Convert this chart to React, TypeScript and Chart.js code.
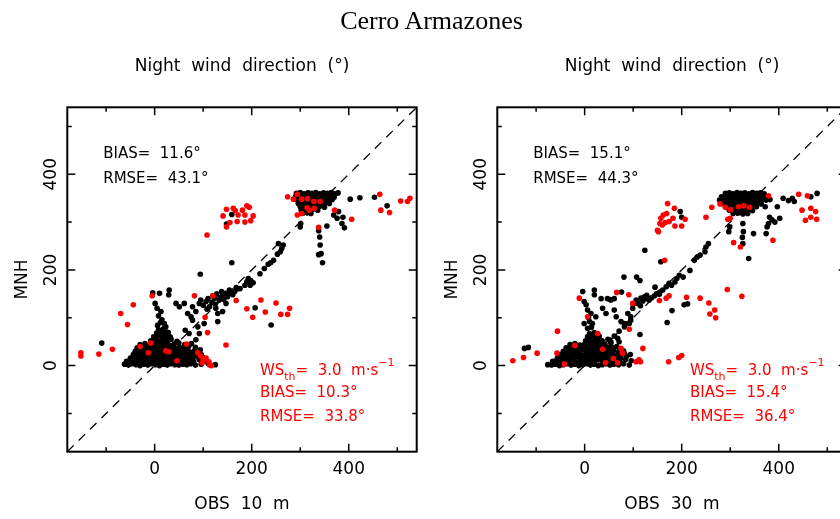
import React, { useEffect, useRef } from "react";
import { Chart, registerables } from "chart.js";

Chart.register(...registerables);

type P = [number, number];

const MAIN_TITLE = "Cerro Armazones";
const PANEL_TITLE = "Night  wind  direction  (°)";
const X_TITLE_10 = "OBS  10  m";
const X_TITLE_30 = "OBS  30  m";
const Y_TITLE = "MNH";
const AXIS_MIN = -180;
const AXIS_MAX = 540;
const MAJOR_TICKS = [0, 200, 400];
const MINOR_TICKS = [-100, 100, 300, 500];

const STATS_ALL_10 = ["BIAS=  11.6°", "RMSE=  43.1°"];
const STATS_ALL_30 = ["BIAS=  15.1°", "RMSE=  44.3°"];
const STATS_WS_10 = ["BIAS=  10.3°", "RMSE=  33.8°"];
const STATS_WS_30 = ["BIAS=  15.4°", "RMSE=  36.4°"];
const WS_MAIN = "WS";
const WS_SUB = "th";
const WS_MID = "=  3.0  m·s";
const WS_SUP = "−1";

const OBS10_BLACK: P[] = [
  [-62,3],[-54,1],[-46,4],[-38,2],[-30,0],[-22,3],[-14,1],[-6,4],[2,2],[10,0],[18,3],[26,1],[34,4],[42,2],[50,1],[58,3],[66,2],[74,4],[84,1],[96,3],[110,5],[125,2],
  [-58,9],[-50,11],[-42,8],[-34,10],[-26,9],[-18,12],[-10,8],[-2,10],[6,9],[14,11],[22,8],[30,10],[38,12],[46,9],[54,10],[62,8],[70,11],[80,9],[92,12],[104,10],
  [-50,16],[-42,18],[-34,15],[-26,17],[-18,16],[-10,19],[-2,15],[6,17],[14,16],[22,18],[30,15],[38,17],[46,16],[54,18],[62,15],[70,17],[78,16],[88,19],[100,17],
  [-44,23],[-36,25],[-28,22],[-20,24],[-12,23],[-4,26],[4,22],[12,24],[20,23],[28,25],[36,22],[44,24],[52,23],[60,26],[68,22],[76,24],[86,25],[96,23],
  [-40,30],[-32,32],[-24,29],[-16,31],[-8,30],[0,33],[8,29],[16,31],[24,30],[32,32],[40,29],[48,31],[56,30],[64,32],[72,29],[82,31],[94,33],
  [-36,37],[-28,39],[-20,36],[-12,38],[-4,37],[4,40],[12,36],[20,38],[28,37],[36,39],[44,36],[52,38],[60,37],[70,40],[84,38],
  [-30,44],[-20,46],[-10,43],[-2,45],[6,47],[14,44],[22,46],[30,43],[40,45],[50,47],[62,44],[76,46],
  [-8,52],[2,54],[10,51],[18,53],[26,52],[34,55],[46,51],
  [-2,60],[8,62],[16,59],[24,61],[32,60],
  [4,68],[12,70],[20,67],[28,69],[8,75],[18,77],
  [-109,47],[-4,152],[10,151],[29,148],[30,158],[1,130],[5,120],[13,113],[8,104],[15,96],[12,90],[20,88],[6,84],[23,81],[18,74],[25,70],
  [44,130],[51,123],[61,130],[68,109],[75,102],[78,123],[78,95],[85,113],[89,81],[92,130],[95,137],[100,126],[102,88],[106,134],[108,118],[110,140],[113,123],[118,132],[120,146],[123,141],[125,128],[126,120],[128,150],[130,109],[130,92],[133,137],[135,142],[138,155],[140,148],[140,113],[142,138],[147,151],[147,130],[150,144],[154,158],[157,152],[161,148],[165,155],[170,160],[63,74],[71,67],[85,54],[92,67],[207,121],[240,85],
  [168,163],[176,161],[186,168],[197,168],[190,175],[198,178],[193,182],[203,173],[217,192],[226,203],[234,212],[239,215],[245,220],[253,233],[259,238],[262,245],[255,255],[265,252],[159,215],[94,191],
  [292,360],[300,362],[308,359],[316,361],[324,360],[332,362],[340,359],[348,361],[356,360],[364,362],[372,359],[378,361],
  [290,353],[298,354],[306,352],[314,355],[322,353],[330,354],[338,352],[346,355],[354,353],[362,354],[370,352],
  [294,346],[302,347],[310,345],[318,348],[326,346],[334,347],[342,345],[350,348],[358,346],[366,347],
  [296,339],[304,340],[312,338],[320,341],[328,339],[336,340],[344,338],[352,341],[360,339],
  [300,332],[308,333],[316,331],[324,334],[332,332],[340,333],[350,331],
  [302,325],[310,326],[318,324],[326,327],[336,325],
  [306,319],[314,320],[322,318],
  [403,348],[423,351],[453,352],[479,334],[379,322],[369,315],[376,308],[388,310],[386,297],[391,288],[355,292],[300,290],[301,297],[338,282],[340,269],[341,252],[343,234],[338,232],[346,215],[159,316],[148,296],
];

const OBS10_RED: P[] = [
  [-152,27],[-152,20],[-115,24],[-87,34],[-70,109],[-56,86],[-44,127],[-5,146],[82,146],[120,146],[104,101],[109,69],[147,43],[168,136],[190,119],[202,101],[219,137],[228,112],[250,131],[260,107],[274,107],[278,120],[66,45],[-8,47],[-30,40],[-13,27],[23,31],[29,29],[46,10],[89,27],[95,20],[100,12],[106,16],[112,8],[98,6],[113,1],[117,0],
  [148,327],[162,329],[166,324],[181,325],[190,334],[195,331],[141,313],[172,315],[186,315],[203,313],[155,299],[170,301],[186,300],[198,303],[148,290],[108,273],
  [274,353],[286,348],[294,358],[303,348],[315,349],[328,343],[314,330],[319,325],[329,329],[341,343],[294,315],[303,318],[371,325],[338,289],[406,306],[464,358],[466,325],[484,320],[507,344],[521,343],[526,350],
];

const OBS30_BLACK: P[] = [
  [-76,2],[-68,1],[-60,3],[-52,0],[-44,2],[-36,4],[-28,1],[-20,3],[-12,0],[-4,2],[4,4],[12,1],[20,3],[28,0],[36,2],[44,4],[52,1],[60,3],[70,2],[80,4],[92,1],
  [-66,9],[-58,11],[-50,8],[-42,10],[-34,9],[-26,12],[-18,8],[-10,10],[-2,9],[6,11],[14,8],[22,10],[30,12],[38,9],[46,10],[54,8],[62,11],[72,9],[84,12],[96,10],
  [-56,16],[-48,18],[-40,15],[-32,17],[-24,16],[-16,19],[-8,15],[0,17],[8,16],[16,18],[24,15],[32,17],[40,16],[48,18],[56,15],[64,17],[74,16],[86,19],
  [-50,23],[-42,25],[-34,22],[-26,24],[-18,23],[-10,26],[-2,22],[6,24],[14,23],[22,25],[30,22],[38,24],[46,23],[54,26],[62,22],[72,24],[82,25],[94,23],
  [-44,30],[-36,32],[-28,29],[-20,31],[-12,30],[-4,33],[4,29],[12,31],[20,30],[28,32],[36,29],[44,31],[52,30],[60,32],[70,29],[80,31],
  [-38,37],[-30,39],[-22,36],[-14,38],[-6,37],[2,40],[10,36],[18,38],[26,37],[34,39],[42,36],[50,38],[58,37],[66,40],
  [-30,44],[-20,46],[-10,43],[0,45],[8,47],[16,44],[24,46],[32,43],[42,45],[54,47],
  [2,52],[10,54],[18,51],[26,53],[36,52],[48,55],
  [6,60],[14,62],[22,59],[30,61],
  [10,67],[20,69],
  [-124,36],[-116,38],[114,65],[170,90],[180,115],[205,127],[212,129],[-4,155],[20,158],[20,148],
  [-1,134],[3,127],[6,116],[13,109],[8,100],[10,92],[16,88],[-1,88],[14,80],[6,78],[23,102],
  [34,140],[47,140],[61,140],[54,137],[37,120],[44,109],[61,116],[65,102],[75,92],[82,88],[89,109],[92,88],[95,102],[99,120],[100,128],[106,137],[110,130],[115,125],[116,141],[120,135],[123,144],[128,140],[133,137],[138,142],[144,146],[148,150],[154,149],[161,158],[168,165],[174,172],[23,57],[34,50],[54,50],[68,57],[71,50],[51,54],[61,62],[71,72],[82,81],[89,88],[95,95],[53,138],[76,154],
  [179,168],[186,175],[190,182],[195,189],[203,185],[217,199],[226,220],[232,227],[238,231],[248,238],[250,248],[255,255],[157,217],[124,241],[155,154],[145,164],[107,185],[81,185],[114,178],[128,147],
  [290,360],[298,361],[306,359],[314,362],[322,360],[330,361],[338,359],[346,362],[354,360],[362,361],[370,359],
  [282,353],[290,354],[298,352],[306,355],[314,353],[322,354],[330,352],[338,355],[346,353],[354,354],[362,352],[370,355],[378,353],
  [278,346],[286,347],[294,345],[302,348],[310,346],[318,347],[326,345],[334,348],[342,346],[350,347],[358,345],[366,348],[374,346],[382,347],
  [284,339],[292,340],[300,338],[308,341],[316,339],[324,340],[332,338],[340,341],[348,339],[356,340],[364,338],
  [290,332],[298,333],[306,331],[314,334],[322,332],[330,333],[338,331],[346,334],[354,332],
  [298,325],[306,326],[314,324],[322,327],[330,325],[338,326],[346,324],
  [306,318],[316,319],[326,317],[336,318],
  [409,350],[428,350],[432,343],[466,353],[479,360],[420,345],[372,332],[397,332],[402,308],[381,310],[386,305],[392,300],[379,297],[376,290],[374,276],[348,276],[326,297],[327,280],[325,268],[326,255],[338,224],[299,290],[297,280],[197,322],[200,310],
];

const OBS30_RED: P[] = [
  [-148,10],[-126,17],[-98,26],[-56,72],[-57,26],[-20,42],[-42,3],[-11,141],[6,102],[27,67],[37,34],[66,153],[91,148],[99,130],[75,36],[78,26],[92,76],[120,36],[106,8],[112,12],[115,8],[68,6],[43,6],[59,15],[154,136],[168,141],[174,146],[210,143],[238,141],[256,131],[258,108],[268,116],[270,100],[294,159],[324,145],[173,8],[194,17],[200,21],
  [171,339],[185,329],[162,315],[169,318],[182,308],[207,306],[155,297],[166,299],[174,301],[186,292],[200,292],[150,283],[152,280],[160,294],[157,308],[250,310],[262,331],[279,338],[290,331],[301,326],[317,332],[328,334],[340,331],[300,308],[295,306],[307,257],[321,248],[388,262],[379,355],[441,358],[459,355],[448,325],[466,329],[476,322],[455,304],[478,306],[466,310],[165,220],
];

const SANS = "'DejaVu Sans', 'Liberation Sans', sans-serif";
const RED = "#ff0000";

function buildChart(
  canvas: HTMLCanvasElement,
  black: P[],
  red: P[],
  xTitle: string,
  statsAll: string[],
  statsWs: string[]
) {
  const toPts = (a: P[]) => a.map(([x, y]) => ({ x, y }));
  const decor = {
    id: "decor",
    afterDraw(chart: any) {
      const { ctx, chartArea: ca, scales } = chart;
      const xs = scales.x;
      const ys = scales.y;
      ctx.save();
      ctx.strokeStyle = "#000";
      ctx.lineWidth = 1.5;
      const ticks: [number, number][] = [
        ...MAJOR_TICKS.map((v) => [v, 8] as [number, number]),
        ...MINOR_TICKS.map((v) => [v, 4.5] as [number, number]),
      ];
      for (const [v, len] of ticks) {
        const px = xs.getPixelForValue(v);
        const py = ys.getPixelForValue(v);
        ctx.beginPath();
        ctx.moveTo(px, ca.bottom);
        ctx.lineTo(px, ca.bottom - len);
        ctx.moveTo(px, ca.top);
        ctx.lineTo(px, ca.top + len);
        ctx.moveTo(ca.left, py);
        ctx.lineTo(ca.left + len, py);
        ctx.moveTo(ca.right, py);
        ctx.lineTo(ca.right - len, py);
        ctx.stroke();
      }
      ctx.lineWidth = 2;
      ctx.strokeRect(ca.left, ca.top, ca.right - ca.left, ca.bottom - ca.top);

      ctx.fillStyle = "#000";
      ctx.font = `17px ${SANS}`;
      ctx.textAlign = "center";
      ctx.textBaseline = "middle";
      for (const v of MAJOR_TICKS) {
        ctx.save();
        ctx.translate(ca.left - 16, ys.getPixelForValue(v));
        ctx.rotate(-Math.PI / 2);
        ctx.fillText(String(v), 0, 0);
        ctx.restore();
      }

      ctx.textAlign = "left";
      ctx.font = `15px ${SANS}`;
      const lx = xs.getPixelForValue(-106);
      ctx.fillText(statsAll[0], lx, ys.getPixelForValue(442));
      ctx.fillText(statsAll[1], lx, ys.getPixelForValue(390));

      ctx.fillStyle = RED;
      const rx = xs.getPixelForValue(217);
      const yb = ys.getPixelForValue(-9) + 5.5;
      ctx.textBaseline = "alphabetic";
      let cx = rx;
      ctx.font = `15px ${SANS}`;
      ctx.fillText(WS_MAIN, cx, yb);
      cx += ctx.measureText(WS_MAIN).width;
      ctx.font = `11px ${SANS}`;
      ctx.fillText(WS_SUB, cx, yb + 5);
      cx += ctx.measureText(WS_SUB).width;
      ctx.font = `15px ${SANS}`;
      ctx.fillText(WS_MID, cx, yb);
      cx += ctx.measureText(WS_MID).width;
      ctx.font = `11px ${SANS}`;
      ctx.fillText(WS_SUP, cx, yb - 9);

      ctx.font = `15px ${SANS}`;
      ctx.textBaseline = "middle";
      ctx.fillText(statsWs[0], rx, ys.getPixelForValue(-58));
      ctx.fillText(statsWs[1], rx, ys.getPixelForValue(-108));
      ctx.restore();
    },
  };

  const font = { family: SANS, size: 17, weight: "normal" as const };

  return new Chart(canvas, {
    type: "scatter",
    data: {
      datasets: [
        {
          data: toPts(red),
          backgroundColor: RED,
          pointRadius: 2.8,
          pointBorderWidth: 0,
          pointHoverRadius: 2.8,
        },
        {
          data: toPts(black),
          backgroundColor: "#000",
          pointRadius: 2.8,
          pointBorderWidth: 0,
          pointHoverRadius: 2.8,
        },
        {
          data: [
            { x: AXIS_MIN, y: AXIS_MIN },
            { x: AXIS_MAX, y: AXIS_MAX },
          ],
          showLine: true,
          borderColor: "#000",
          borderWidth: 1.3,
          borderDash: [9, 7],
          pointRadius: 0,
          fill: false,
        } as any,
      ],
    },
    options: {
      responsive: false,
      animation: false,
      events: [],
      layout: { padding: { left: 0, right: 13.3, top: 0, bottom: 0 } },
      plugins: {
        legend: { display: false },
        tooltip: { enabled: false },
        title: {
          display: true,
          text: PANEL_TITLE,
          fullSize: false,
          color: "#000",
          font,
          padding: { top: 56.5, bottom: 30.4 },
        },
      },
      scales: {
        x: {
          type: "linear",
          min: AXIS_MIN,
          max: AXIS_MAX,
          afterBuildTicks: (s: any) => {
            s.ticks = MAJOR_TICKS.map((v) => ({ value: v }));
          },
          afterFit: (s: any) => {
            s.height = 67.3;
          },
          grid: { display: false, drawTicks: false },
          border: { display: false },
          ticks: { color: "#000", font, padding: 8, maxRotation: 0, minRotation: 0 },
          title: {
            display: true,
            text: xTitle,
            color: "#000",
            font,
            padding: { top: 0, bottom: 4 },
          },
        },
        y: {
          type: "linear",
          min: AXIS_MIN,
          max: AXIS_MAX,
          afterFit: (s: any) => {
            s.width = 67.3;
          },
          grid: { display: false, drawTicks: false },
          border: { display: false },
          ticks: { display: false },
          title: {
            display: true,
            text: Y_TITLE,
            color: "#000",
            font,
            padding: { top: 12.5, bottom: 0 },
          },
        },
      },
    } as any,
    plugins: [decor],
  });
}

export default function App() {
  const leftRef = useRef<HTMLCanvasElement>(null);
  const rightRef = useRef<HTMLCanvasElement>(null);

  useEffect(() => {
    const c1 = buildChart(leftRef.current!, OBS10_BLACK, OBS10_RED, X_TITLE_10, STATS_ALL_10, STATS_WS_10);
    const c2 = buildChart(rightRef.current!, OBS30_BLACK, OBS30_RED, X_TITLE_30, STATS_ALL_30, STATS_WS_30);
    return () => {
      c1.destroy();
      c2.destroy();
    };
  }, []);

  return (
    <div
      style={{
        position: "absolute",
        left: 0,
        top: 0,
        width: 840,
        height: 519,
        overflow: "hidden",
        background: "#fff",
      }}
    >
      <canvas ref={leftRef} width={430} height={519} style={{ position: "absolute", left: 0, top: 0 }} />
      <canvas ref={rightRef} width={430} height={519} style={{ position: "absolute", left: 430, top: 0 }} />
      <div
        style={{
          position: "absolute",
          left: 0,
          top: 6,
          width: 863,
          textAlign: "center",
          fontFamily: "'Liberation Serif', 'Times New Roman', serif",
          fontSize: 26,
          lineHeight: "30px",
          color: "#000",
        }}
      >
        {MAIN_TITLE}
      </div>
    </div>
  );
}
